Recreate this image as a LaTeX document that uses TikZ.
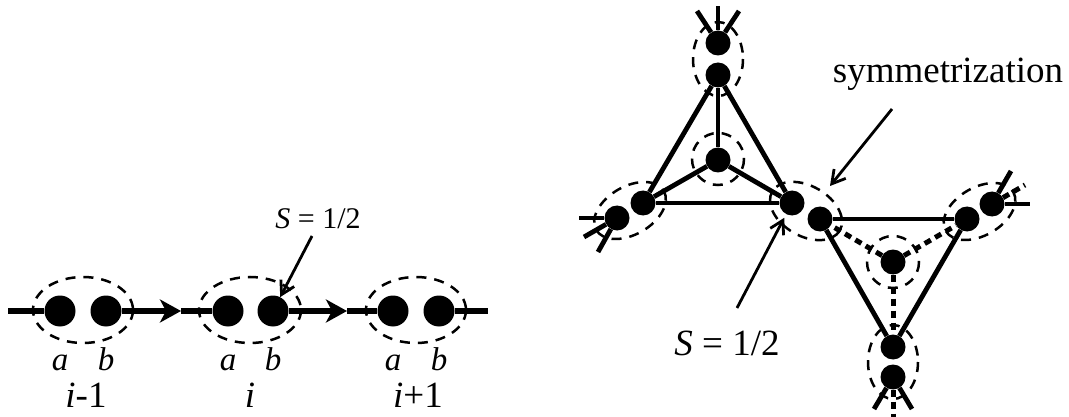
\documentclass[tikz,border=0pt]{standalone}
\usepackage{fontspec}
\setmainfont{Liberation Serif}
\usetikzlibrary{arrows.meta,calc}
\begin{document}
\begin{tikzpicture}[x=1pt,y=-1pt,
  dot/.style={circle,fill=black,inner sep=0pt,minimum size=25pt},
  bigdot/.style={circle,fill=black,inner sep=0pt,minimum size=31pt},
  bond/.style={line width=4.8pt},
  dbond/.style={line width=5pt,dash pattern=on 7pt off 5pt},
  chain/.style={line width=5.4pt},
  ring/.style={line width=2.5pt,dash pattern=on 10pt off 8pt},
  pointer/.style={line width=2.8pt,-{Straight Barb[length=13pt,width=15pt]}},
  chainarrow/.style={chain,-{Stealth[length=21pt,width=23pt,inset=6pt]}},
  bigtxt/.style={font=\fontsize{37}{40}\selectfont,inner sep=0pt,anchor=base},
  abtxt/.style={font=\fontsize{33}{38}\selectfont\itshape,inner sep=0pt,anchor=base},
  smalltxt/.style={font=\fontsize{30}{34}\selectfont,inner sep=0pt,anchor=base}]
\useasboundingbox (0,0) rectangle (1069,417);

% ---------- left chain ----------
\node[bigdot] (a1) at (60,311) {};
\node[bigdot] (b1) at (106,311) {};
\node[bigdot] (a2) at (228,311) {};
\node[bigdot] (b2) at (273,311) {};
\node[bigdot] (a3) at (393,311) {};
\node[bigdot] (b3) at (439,311) {};
\coordinate (c0) at (8,311);
\coordinate (c9) at (488,311);
\coordinate (m1) at (181,311);
\coordinate (m2) at (347,311);

\draw[ring] (83,310) ellipse [x radius=50, y radius=33];
\draw[ring] (250,310) ellipse [x radius=51, y radius=33];
\draw[ring] (416,310) ellipse [x radius=50, y radius=33];

\draw[chain] (c0) -- (a1);
\draw[chainarrow] (b1) -- (m1);
\draw[chain] (m1) -- (a2);
\draw[chainarrow] (b2) -- (m2);
\draw[chain] (m2) -- (a3);
\draw[chain] (b3) -- (c9);

\node[abtxt] (la1) at (60,370) {a};
\node[abtxt] (lb1) at (106,370) {b};
\node[abtxt] (la2) at (228,370) {a};
\node[abtxt] (lb2) at (273,370) {b};
\node[abtxt] (la3) at (393,370) {a};
\node[abtxt] (lb3) at (439,370) {b};
\node[bigtxt] (li1) at (86,407) {\itshape i\upshape-1};
\node[bigtxt] (li2) at (250,407) {\itshape i};
\node[bigtxt] (li3) at (418,407) {\itshape i\upshape+1};

\node[smalltxt] (sl) at (318,228) {\itshape S\upshape\ = 1/2};
\coordinate (s1) at (312,236);
\draw[pointer] (s1) -- (b2);

% ---------- left triangle ----------
\node[dot] (LT) at (718,75) {};
\node[dot] (LL) at (643,203) {};
\node[dot] (LR) at (792,203) {};
\node[dot] (LC) at (718,160) {};
\node[dot] (T0) at (718,43) {};
\node[dot] (L0) at (617,218) {};

% ---------- right triangle ----------
\node[dot] (RL) at (820,219) {};
\node[dot] (RR) at (967,219) {};
\node[dot] (RB) at (893,347) {};
\node[dot] (RC) at (893,262) {};
\node[dot] (R0) at (992,204) {};
\node[dot] (B0) at (893,377) {};

% dashed rings
\draw[ring] (718,59) ellipse [x radius=25, y radius=37];
\draw[ring,rotate around={30:(630,210.5)}] (630,210.5) ellipse [x radius=39, y radius=24];
\draw[ring,rotate around={-30:(806,211)}] (806,211) ellipse [x radius=39, y radius=25];
\draw[ring,rotate around={30:(979.5,211.5)}] (979.5,211.5) ellipse [x radius=39, y radius=24];
\draw[ring] (893,362) ellipse [x radius=25, y radius=37];
\draw[ring] (718,159) circle [radius=26];
\draw[ring] (893,262) circle [radius=26];

% left triangle bonds
\draw[bond] (LT) -- (LL);
\draw[bond] (LT) -- (LR);
\draw[bond] (LL) -- (LR);
\draw[bond] (LC) -- (LT);
\draw[bond] (LC) -- (LL);
\draw[bond] (LC) -- (LR);

% right triangle bonds
\draw[bond] (RL) -- (RR);
\draw[bond] (RL) -- (RB);
\draw[bond] (RR) -- (RB);
\draw[dbond] (RC) -- (RL);
\draw[dbond] (RC) -- (RR);
\draw[dbond] (RC) -- (RB);

% stubs
\coordinate (t1) at (718,6);
\coordinate (t2) at (697,11);
\coordinate (t3) at (739,11);
\draw[bond] (T0) -- (t1);
\draw[bond] (T0) -- (t2);
\draw[bond] (T0) -- (t3);

\coordinate (l1) at (579,218);
\coordinate (l2) at (584,237);
\coordinate (l3) at (598,252);
\draw[bond] (L0) -- (l1);
\draw[bond] (L0) -- (l2);
\draw[bond] (L0) -- (l3);

\coordinate (r1) at (1030,204);
\coordinate (r2) at (1025,185);
\coordinate (r3) at (1011,171);
\draw[bond] (R0) -- (r1);
\draw[dbond] (R0) -- (r2);
\draw[bond] (R0) -- (r3);

\coordinate (d1) at (893,417);
\coordinate (d2) at (874,409);
\coordinate (d3) at (912,409);
\draw[dbond] (B0) -- (d1);
\draw[bond] (B0) -- (d2);
\draw[bond] (B0) -- (d3);

% labels on the right
\node[bigtxt] (sym) at (948,83) {symmetrization};
\coordinate (p1) at (892,109);
\coordinate (p2) at (830,186);
\draw[pointer] (p1) -- (p2);

\node[bigtxt] (sr) at (727,355) {\itshape S\upshape\ = 1/2};
\coordinate (q1) at (737,308);
\draw[pointer,shorten >=4pt] (q1) -- (LR);
\end{tikzpicture}
\end{document}
